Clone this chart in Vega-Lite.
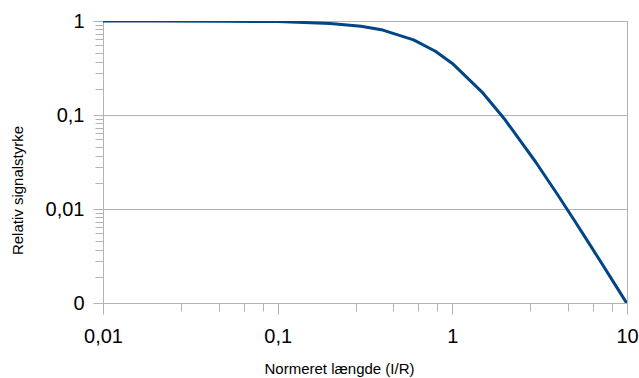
{
  "$schema": "https://vega.github.io/schema/vega-lite/v6.json",
  "width": 524,
  "height": 282,
  "autosize": {"type": "none"},
  "padding": {"left": 103, "top": 21, "right": 12, "bottom": 75},
  "background": "white",
  "config": {
    "view": {"stroke": "#b3b3b3", "strokeWidth": 1},
    "font": "Liberation Sans"
  },
  "data": {
    "values": [
      {"l": 0.01, "signal": 0.99985},
      {"l": 0.02, "signal": 0.9994},
      {"l": 0.05, "signal": 0.99626},
      {"l": 0.1, "signal": 0.98519},
      {"l": 0.2, "signal": 0.94287},
      {"l": 0.3, "signal": 0.87874},
      {"l": 0.4, "signal": 0.80043},
      {"l": 0.6, "signal": 0.63052},
      {"l": 0.8, "signal": 0.47613},
      {"l": 1, "signal": 0.35355},
      {"l": 1.5, "signal": 0.1707},
      {"l": 2, "signal": 0.08944},
      {"l": 3, "signal": 0.031623},
      {"l": 4, "signal": 0.014267},
      {"l": 5, "signal": 0.0075431},
      {"l": 6, "signal": 0.0044431},
      {"l": 7, "signal": 0.0028284},
      {"l": 8, "signal": 0.0019083},
      {"l": 9, "signal": 0.0013467},
      {"l": 10, "signal": 0.00098518}
    ]
  },
  "layer": [
    {
      "mark": {"type": "line", "color": "#004586", "strokeWidth": 3, "clip": true, "strokeJoin": "round"},
      "encoding": {
        "x": {
          "field": "l",
          "type": "quantitative",
          "scale": {"type": "log", "domain": [0.01, 10], "nice": false},
          "axis": {
            "orient": "bottom",
            "values": [0.01, 0.1, 1, 10],
            "labelExpr": "replace(toString(datum.value), '.', ',')",
            "labelFont": "Liberation Sans",
            "labelFontSize": 20,
            "labelColor": "#000000",
            "labelPadding": 12,
            "labelFlush": false,
            "labelOverlap": false,
            "tickSize": 11,
            "tickColor": "#b3b3b3",
            "domainColor": "#b3b3b3",
            "grid": false,
            "title": "Normeret længde (I/R)",
            "titleFont": "Liberation Sans",
            "titleFontSize": 15,
            "titleFontWeight": "normal",
            "titleColor": "#000000",
            "titleX": 236,
            "titleY": 70,
            "titleAlign": "center",
            "titleBaseline": "alphabetic"
          }
        },
        "y": {
          "field": "signal",
          "type": "quantitative",
          "scale": {"type": "log", "domain": [0.001, 1], "nice": false},
          "axis": {
            "orient": "left",
            "values": [0.001, 0.01, 0.1, 1],
            "labelExpr": "datum.value > 0.5 ? '1' : datum.value > 0.05 ? '0,1' : datum.value > 0.005 ? '0,01' : '0'",
            "labelFont": "Liberation Sans",
            "labelFontSize": 20,
            "labelColor": "#000000",
            "labelPadding": 9,
            "labelFlush": false,
            "labelOverlap": false,
            "tickSize": 10,
            "tickColor": "#b3b3b3",
            "domainColor": "#b3b3b3",
            "grid": true,
            "gridColor": "#b3b3b3",
            "gridWidth": 1,
            "title": "Relativ signalstyrke",
            "titleFont": "Liberation Sans",
            "titleFontSize": 15,
            "titleFontWeight": "normal",
            "titleColor": "#000000",
            "titleAngle": -90,
            "titleX": -81,
            "titleY": 169,
            "titleAlign": "center",
            "titleBaseline": "alphabetic"
          }
        }
      }
    },
    {
      "mark": {"type": "line", "opacity": 0},
      "encoding": {
        "x": {
          "field": "l",
          "type": "quantitative",
          "axis": {
            "orient": "bottom",
            "values": [0.028, 0.046, 0.064, 0.082, 0.28, 0.46, 0.64, 0.82, 2.8, 4.6, 6.4, 8.2],
            "labels": false,
            "domain": false,
            "grid": false,
            "tickSize": 8,
            "tickColor": "#b3b3b3",
            "title": null
          }
        },
        "y": {
          "field": "signal",
          "type": "quantitative",
          "axis": {
            "orient": "left",
            "values": [0.0019, 0.0028, 0.0037, 0.0046, 0.0055, 0.0064, 0.0073, 0.0082, 0.0091, 0.019, 0.028, 0.037, 0.046, 0.055, 0.064, 0.073, 0.082, 0.091, 0.19, 0.28, 0.37, 0.46, 0.55, 0.64, 0.73, 0.82, 0.91],
            "labels": false,
            "domain": false,
            "grid": false,
            "tickSize": 8,
            "tickColor": "#b3b3b3",
            "title": null
          }
        }
      }
    }
  ],
  "resolve": {"axis": {"x": "independent", "y": "independent"}}
}
